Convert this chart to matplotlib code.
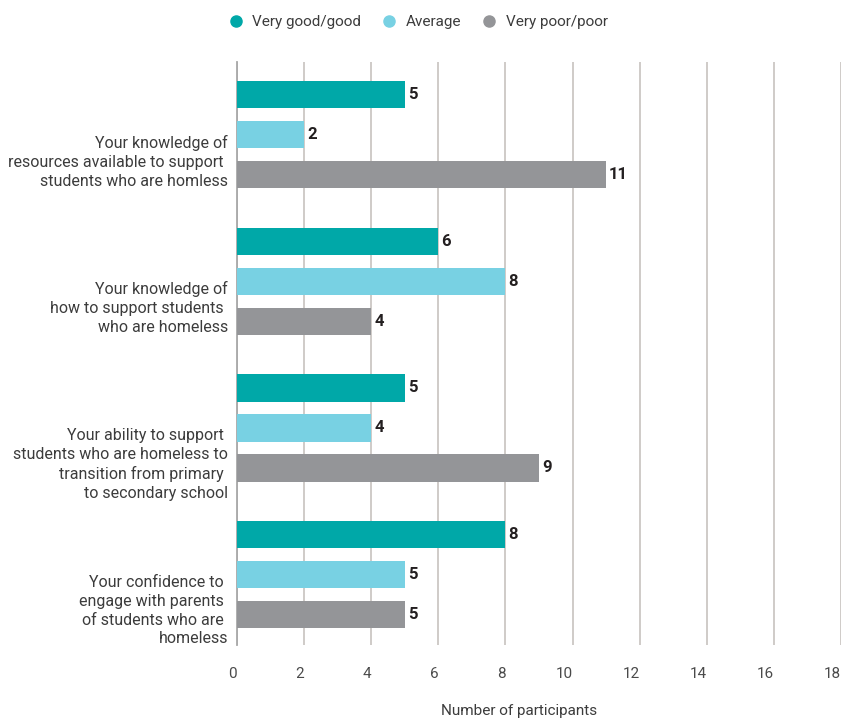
import matplotlib
matplotlib.use("Agg")
import matplotlib.pyplot as plt
from matplotlib.lines import Line2D
import matplotlib.transforms as mtransforms
import numpy as np

plt.rcParams['font.family'] = ['Roboto', 'DejaVu Sans']

categories = [
    "Your knowledge of\nresources available to support \nstudents who are homless",
    "Your knowledge of\nhow to support students \nwho are homeless",
    "Your ability to support \nstudents who are homeless to\ntransition from primary \nto secondary school",
    "Your confidence to \nengage with parents \nof students who are \nhomeless",
]
series_names = ["Very good/good", "Average", "Very poor/poor"]
very_good = [5, 6, 5, 8]
average = [2, 8, 4, 5]
very_poor = [11, 4, 9, 5]
xticks = [0, 2, 4, 6, 8, 10, 12, 14, 16, 18]
colors = ["#00A8A8", "#78D1E3", "#949598"]

fig = plt.figure(figsize=(8.42, 7.18), dpi=100)
ax = fig.add_axes([237/842, 1-645/718, (841-237)/842, (645-62)/718])

offsets = [-0.273, 0.0, 0.273]
bar_h = 0.186
y = np.arange(len(categories))
for vals, off, col in zip([very_good, average, very_poor], offsets, colors):
    bars = ax.barh(y + off, vals, height=bar_h, color=col, zorder=3)
    for b, v in zip(bars, vals):
        ax.text(v, b.get_y() + b.get_height()/2, str(v),
                transform=ax.transData + mtransforms.ScaledTranslation(3/100, 0, fig.dpi_scale_trans),
                ha='left', va='center', fontsize=12, fontweight='bold', color='#231F20', zorder=4)

ax.set_xlim(0, 18)
ax.set_ylim(3.48, -0.495)
ax.set_xticks(xticks)
ax.set_xticklabels([str(t) for t in xticks])
for lab in ax.get_xticklabels():
    lab.set_horizontalalignment('right')
ax.tick_params(axis='x', length=0, pad=16, labelsize=11, labelcolor='#4A4A4A')
ax.set_yticks([])
ax.grid(axis='x', color='#CCC7C4', linewidth=1.3, zorder=0)
for s in ['top', 'right', 'bottom']:
    ax.spines[s].set_visible(False)
ax.spines['left'].set_color('#A8A8A8')
ax.spines['left'].set_linewidth(1.3)

for yi, cat in zip(y, categories):
    ax.text(-9/33.55, yi + 0.0, cat, ha='right', va='top', fontsize=11.5,
            color='#3C3C3C', linespacing=1.33)

fig.text(519/842, 1-711/718, "Number of participants", ha='center', va='center',
         fontsize=11, color='#3C3C3C')

handles = [Line2D([0], [0], marker='o', linestyle='none', markersize=8,
                  markerfacecolor=c, markeredgecolor=c) for c in colors]
fig.legend(handles, series_names, loc='center', bbox_to_anchor=(414/842, 1-22/718),
           ncol=3, frameon=False, fontsize=11, handletextpad=0.1, columnspacing=0.8,
           labelcolor='#3C3C3C')

fig.savefig("out.png", dpi=100)
